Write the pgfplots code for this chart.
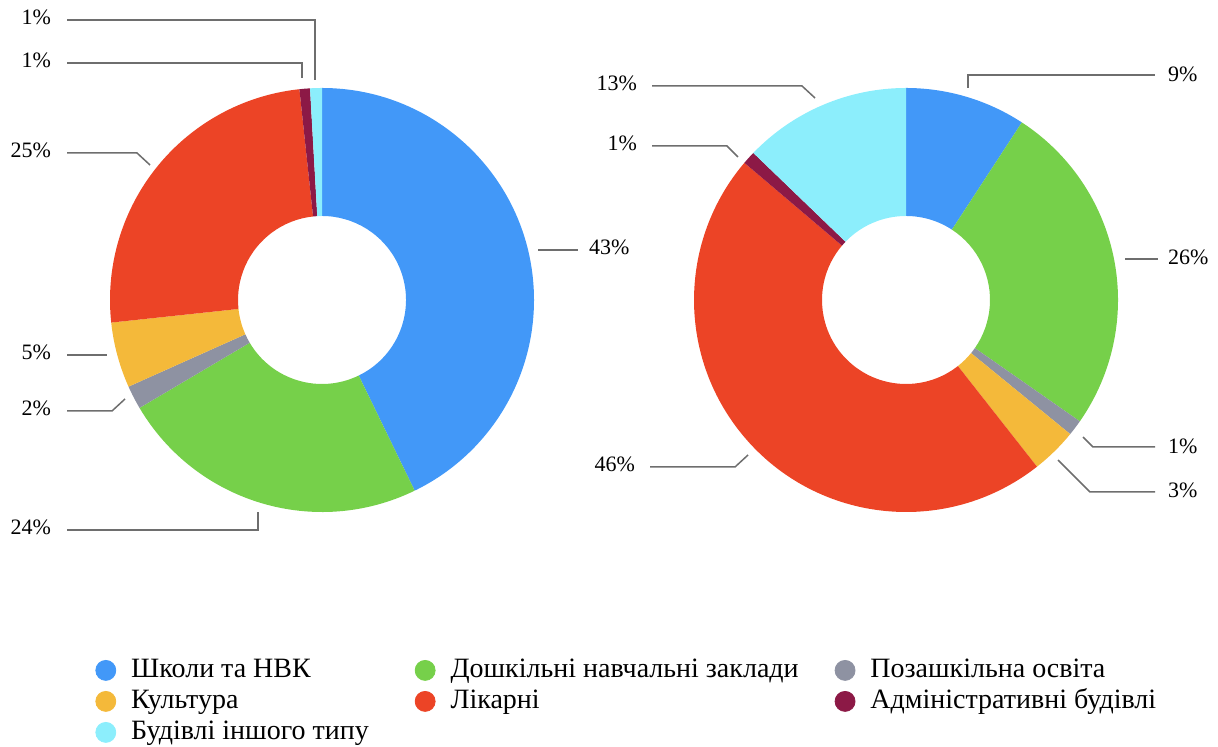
\documentclass[border=0pt]{standalone}
\usepackage{fontspec}
\setmainfont{Liberation Serif}
\usepackage{pgfplots}
\usepackage{pgfplotstable}
\pgfplotsset{compat=1.18}

\definecolor{cblue}{RGB}{66,152,248}
\definecolor{cgreen}{RGB}{118,208,74}
\definecolor{cgray}{RGB}{142,146,162}
\definecolor{corange}{RGB}{244,185,58}
\definecolor{cred}{RGB}{236,68,38}
\definecolor{cmaroon}{RGB}{140,25,70}
\definecolor{ccyan}{RGB}{140,238,252}
\definecolor{lcol}{RGB}{110,110,110}

% shares in percent, clockwise from 12 o'clock
\pgfplotstableread{
val col
42.8 cblue
23.7 cgreen
1.8 cgray
5.0 corange
25.0 cred
0.8 cmaroon
0.9 ccyan
}\leftdata

\pgfplotstableread{
val col
9.2 cblue
25.5 cgreen
1.2 cgray
3.5 corange
46.8 cred
1.0 cmaroon
12.8 ccyan
}\rightdata

% #1 table, #2 #3 centre in axis units
\newcommand\donut[3]{%
  \pgfplotstablegetrowsof{#1}%
  \pgfmathtruncatemacro\nlast{\pgfplotsretval-1}%
  \gdef\acc{0}%
  \foreach \i in {0,...,\nlast}{%
    \pgfplotstablegetelem{\i}{val}\of{#1}\let\sliceval\pgfplotsretval
    \pgfplotstablegetelem{\i}{col}\of{#1}\let\slicecol\pgfplotsretval
    \pgfmathsetmacro\angA{90-3.6*\acc}%
    \pgfmathsetmacro\angB{90-3.6*(\acc+\sliceval)}%
    \fill[fill=\slicecol] (axis cs:#2,#3) ++(\angA:106pt)
      arc[start angle=\angA, end angle=\angB, radius=106pt]
      -- ++(\angB+180:64pt)
      arc[start angle=\angB, end angle=\angA, radius=42pt] -- cycle;
    \pgfmathsetmacro\nacc{\acc+\sliceval}%
    \xdef\acc{\nacc}%
  }}

\newcommand\lbl{\rmfamily\fontsize{11}{13}\selectfont}
\newcommand\legdot[1]{\addlegendimage{legend image code/.code={\fill[#1] (5pt,0) circle (5pt);}}}

\begin{document}
\begin{tikzpicture}
\useasboundingbox (0,0) rectangle (609pt,373.5pt);
\begin{axis}[
  x=0.5pt, y=0.5pt, xmin=0, xmax=1218, ymin=0, ymax=747,
  hide axis, clip=false,
  legend columns=3,
  legend cell align=left,
  legend style={draw=none, fill=none, at={(axis cs:89,94)}, anchor=north west,
    font=\rmfamily\fontsize{14}{16}\selectfont,
    nodes={inner sep=0pt, text height=10pt, text depth=3pt},
    row sep=2.5pt,
    /tikz/every odd column/.append style={column sep=7.5pt},
    /tikz/column 2/.append style={column sep=23pt},
    /tikz/column 4/.append style={column sep=18pt},
    /tikz/column 5/.append style={column sep=9.5pt}},
]
\pgfplotsextra{\donut{\leftdata}{322}{447}\donut{\rightdata}{906}{447}}

% leader lines, left chart
\draw[lcol, line width=0.75pt] (axis cs:67,727) -- (axis cs:315,727) -- (axis cs:315,667);
\draw[lcol, line width=0.75pt] (axis cs:67,684) -- (axis cs:302,684) -- (axis cs:302,669);
\draw[lcol, line width=0.75pt] (axis cs:67,594) -- (axis cs:137,594) -- (axis cs:150,582);
\draw[lcol, line width=0.75pt] (axis cs:67,392) -- (axis cs:107,392);
\draw[lcol, line width=0.75pt] (axis cs:67,336) -- (axis cs:112,336) -- (axis cs:125,348);
\draw[lcol, line width=0.75pt] (axis cs:67,217) -- (axis cs:258,217) -- (axis cs:258,235);
\draw[lcol, line width=0.75pt] (axis cs:538,497) -- (axis cs:578,497);
\node[anchor=mid east, font=\lbl] at (axis cs:58,727) {1\%};
\node[anchor=mid east, font=\lbl] at (axis cs:58,684) {1\%};
\node[anchor=mid east, font=\lbl] at (axis cs:58,594) {25\%};
\node[anchor=mid east, font=\lbl] at (axis cs:58,392) {5\%};
\node[anchor=mid east, font=\lbl] at (axis cs:58,336) {2\%};
\node[anchor=mid east, font=\lbl] at (axis cs:58,217) {24\%};
\node[anchor=mid west, font=\lbl] at (axis cs:582,497) {43\%};

% leader lines, right chart
\draw[lcol, line width=0.75pt] (axis cs:652,661) -- (axis cs:802,661) -- (axis cs:815,649);
\draw[lcol, line width=0.75pt] (axis cs:652,601) -- (axis cs:727,601) -- (axis cs:738,590);
\draw[lcol, line width=0.75pt] (axis cs:968,659) -- (axis cs:968,672) -- (axis cs:1155,672);
\draw[lcol, line width=0.75pt] (axis cs:1125,488) -- (axis cs:1158,488);
\draw[lcol, line width=0.75pt] (axis cs:1083,310) -- (axis cs:1093,300) -- (axis cs:1155,300);
\draw[lcol, line width=0.75pt] (axis cs:1058,287) -- (axis cs:1090,255) -- (axis cs:1155,255);
\draw[lcol, line width=0.75pt] (axis cs:650,280) -- (axis cs:735,280) -- (axis cs:748,292);
\node[anchor=mid east, font=\lbl] at (axis cs:644,661) {13\%};
\node[anchor=mid east, font=\lbl] at (axis cs:644,601) {1\%};
\node[anchor=mid west, font=\lbl] at (axis cs:1161,670) {9\%};
\node[anchor=mid west, font=\lbl] at (axis cs:1161,487) {26\%};
\node[anchor=mid west, font=\lbl] at (axis cs:1161,298) {1\%};
\node[anchor=mid west, font=\lbl] at (axis cs:1161,254) {3\%};
\node[anchor=mid east, font=\lbl] at (axis cs:642,280) {46\%};

\legdot{cblue}\addlegendentry{Школи та НВК}
\legdot{cgreen}\addlegendentry{Дошкільні навчальні заклади}
\legdot{cgray}\addlegendentry{Позашкільна освіта}
\legdot{corange}\addlegendentry{Культура}
\legdot{cred}\addlegendentry{Лікарні}
\legdot{cmaroon}\addlegendentry{Адміністративні будівлі}
\legdot{ccyan}\addlegendentry{Будівлі іншого типу}
\end{axis}
\end{tikzpicture}
\end{document}
